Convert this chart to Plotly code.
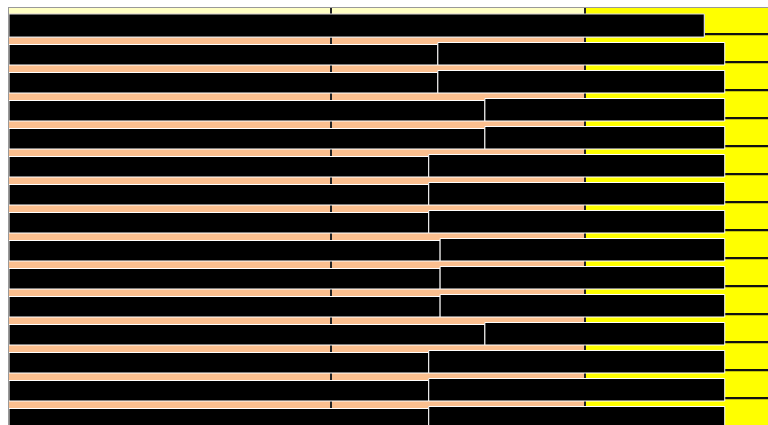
import plotly.graph_objects as go

# ---- data (x in % of visible width) ----
rows = [f"R{i}" for i in range(1, 16)]
first_seg = [91.6, 56.5, 56.5, 62.7, 62.7, 55.3, 55.3, 55.3, 56.8, 56.8, 56.8, 62.7, 55.3, 55.3, 55.3]
total_len = [91.6, 94.3, 94.3, 94.3, 94.3, 94.3, 94.3, 94.3, 94.3, 94.3, 94.3, 94.3, 94.3, 94.3, 94.3]
tail_len = [120] * 15
grid_vals = [42.4, 75.9]
yellow_from = 75.9

second_seg = [t - f for t, f in zip(total_len, first_seg)]
ypos = list(range(len(rows)))

PEACH = "#FBBF8F"
LIGHTY = "#FFFFC4"
YELLOW = "#FFFF00"

fig = go.Figure()

# thin dark tails (visible only where bars end)
fig.add_trace(go.Bar(y=ypos, x=tail_len, orientation="h",
                     marker=dict(color="#111111", line=dict(width=0)),
                     width=0.075, offset=0.36, hoverinfo="skip", showlegend=False))
# left segments
fig.add_trace(go.Bar(y=ypos, x=first_seg, orientation="h",
                     marker=dict(color="black", line=dict(color="white", width=1)),
                     width=0.732, offset=-0.232, showlegend=False))
# right segments
fig.add_trace(go.Bar(y=ypos, x=second_seg, base=first_seg, orientation="h",
                     marker=dict(color="black", line=dict(color="white", width=1)),
                     width=0.804, offset=-0.304, showlegend=False))

# row 1 drawn as single full segment
fig.add_trace(go.Bar(y=[0], x=[total_len[0]], orientation="h",
                     marker=dict(color="black", line=dict(color="#dddddd", width=1)),
                     width=0.821, offset=-0.321, showlegend=False))

shapes = [
    dict(type="rect", layer="below", xref="x", yref="paper", x0=0, x1=yellow_from, y0=0, y1=1,
         fillcolor=PEACH, line=dict(width=0)),
    dict(type="rect", layer="below", xref="x", yref="paper", x0=yellow_from, x1=200, y0=0, y1=1,
         fillcolor=YELLOW, line=dict(width=0)),
    dict(type="rect", layer="below", xref="x", yref="y", x0=0, x1=yellow_from, y0=-0.6, y1=-0.33,
         fillcolor=LIGHTY, line=dict(width=0)),
]

fig.update_layout(
    width=768, height=425,
    margin=dict(l=9, r=0, t=8, b=0, autoexpand=False),
    barmode="overlay",
    paper_bgcolor="white", plot_bgcolor=PEACH,
    shapes=shapes,
    xaxis=dict(range=[0, 100], side="top", tickvals=grid_vals, showticklabels=False,
               showgrid=True, gridcolor="#222222", gridwidth=2, zeroline=False,
               showline=True, linecolor="#999999", linewidth=1, ticks=""),
    yaxis=dict(range=[14.357, -0.5357], showticklabels=False, showgrid=False, zeroline=False,
               showline=True, linecolor="#999999", linewidth=1, ticks=""),
)

fig.write_html(
    "out.html",
    config={"displayModeBar": False},
    post_script="document.body.style.margin='0';document.documentElement.style.overflow='hidden';document.body.style.overflow='hidden';",
)
